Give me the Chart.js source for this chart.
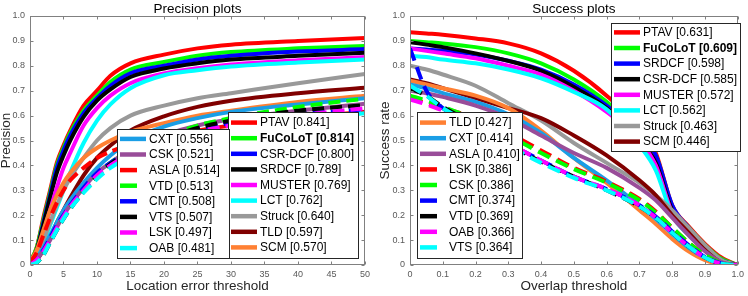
<!DOCTYPE html>
<html>
<head>
<meta charset="utf-8">
<script src="https://cdn.jsdelivr.net/npm/chart.js@4.4.1/dist/chart.umd.min.js"></script>
<style>
    html, body { margin: 0; padding: 0; background: #fff; }
    #wrap { display: flex; width: 748px; height: 296px; }
    .cell { position: relative; width: 374px; height: 296px; }
</style>
</head>
<body>
<div id="wrap">
    <div class="cell"><canvas id="precision-chart" width="374" height="296"></canvas></div>
    <div class="cell"><canvas id="success-chart" width="374" height="296"></canvas></div>
</div>
<script>
// ---- Precision plot data (location error threshold, px) ----
const precThresholds = [0, 1, 2, 3, 4, 5, 6, 8, 10, 12, 15, 20, 25, 30, 40, 50];
const precPTAV    = [0.01, 0.07, 0.19, 0.30, 0.41, 0.48, 0.54, 0.64, 0.70, 0.76, 0.81, 0.845, 0.87, 0.885, 0.90, 0.912];
const precFuCoLoT = [0.01, 0.07, 0.18, 0.29, 0.40, 0.47, 0.53, 0.62, 0.68, 0.735, 0.785, 0.815, 0.84, 0.855, 0.87, 0.88];
const precCSRDCF  = [0.01, 0.06, 0.17, 0.28, 0.39, 0.46, 0.52, 0.61, 0.67, 0.72, 0.77, 0.80, 0.825, 0.84, 0.857, 0.867];
const precSRDCF   = [0.01, 0.06, 0.16, 0.27, 0.37, 0.44, 0.50, 0.595, 0.66, 0.705, 0.755, 0.789, 0.81, 0.825, 0.84, 0.852];
const precMUSTER  = [0.01, 0.04, 0.13, 0.22, 0.31, 0.39, 0.45, 0.56, 0.63, 0.68, 0.73, 0.769, 0.79, 0.805, 0.822, 0.835];
const precLCT     = [0.01, 0.03, 0.09, 0.16, 0.23, 0.30, 0.37, 0.49, 0.58, 0.645, 0.71, 0.762, 0.782, 0.797, 0.813, 0.825];
const precStruck  = [0.01, 0.04, 0.10, 0.17, 0.24, 0.30, 0.35, 0.43, 0.50, 0.55, 0.60, 0.64, 0.67, 0.69, 0.73, 0.767];
const precTLD     = [0.00, 0.02, 0.06, 0.11, 0.17, 0.22, 0.27, 0.36, 0.43, 0.48, 0.54, 0.597, 0.635, 0.66, 0.69, 0.712];
const precSCM     = [0.01, 0.06, 0.14, 0.22, 0.28, 0.33, 0.37, 0.43, 0.47, 0.50, 0.535, 0.57, 0.60, 0.62, 0.655, 0.68];
const precCXT     = [0.01, 0.03, 0.07, 0.12, 0.17, 0.22, 0.26, 0.33, 0.39, 0.44, 0.50, 0.556, 0.59, 0.615, 0.645, 0.67];
const precCSK     = [0.00, 0.02, 0.06, 0.10, 0.15, 0.20, 0.24, 0.31, 0.37, 0.41, 0.465, 0.521, 0.56, 0.585, 0.62, 0.648];
const precASLA    = [0.01, 0.05, 0.12, 0.19, 0.25, 0.30, 0.34, 0.39, 0.43, 0.455, 0.485, 0.514, 0.54, 0.56, 0.59, 0.615];
const precVTD     = [0.00, 0.01, 0.045, 0.095, 0.145, 0.19, 0.23, 0.30, 0.36, 0.41, 0.46, 0.513, 0.56, 0.59, 0.635, 0.668];
const precCMT     = [0.00, 0.02, 0.06, 0.11, 0.16, 0.20, 0.24, 0.31, 0.37, 0.41, 0.46, 0.508, 0.545, 0.57, 0.605, 0.625];
const precVTS     = [0.00, 0.01, 0.04, 0.09, 0.14, 0.185, 0.225, 0.295, 0.355, 0.405, 0.455, 0.507, 0.55, 0.58, 0.62, 0.642];
const precLSK     = [0.00, 0.02, 0.055, 0.10, 0.15, 0.195, 0.235, 0.30, 0.36, 0.40, 0.45, 0.497, 0.535, 0.56, 0.60, 0.63];
const precOAB     = [0.00, 0.01, 0.04, 0.09, 0.14, 0.185, 0.225, 0.29, 0.345, 0.39, 0.435, 0.481, 0.515, 0.54, 0.58, 0.61];

const precNames  = ['PTAV', 'FuCoLoT', 'CSR-DCF', 'SRDCF', 'MUSTER', 'LCT', 'Struck', 'TLD', 'SCM',
                    'CXT', 'CSK', 'ASLA', 'VTD', 'CMT', 'VTS', 'LSK', 'OAB'];
const precScores = [0.841, 0.814, 0.800, 0.789, 0.769, 0.762, 0.640, 0.597, 0.570,
                    0.556, 0.521, 0.514, 0.513, 0.508, 0.507, 0.497, 0.481];
const precSeries = [precPTAV, precFuCoLoT, precCSRDCF, precSRDCF, precMUSTER, precLCT, precStruck, precTLD, precSCM,
                    precCXT, precCSK, precASLA, precVTD, precCMT, precVTS, precLSK, precOAB];

// ---- Success plot data (overlap threshold) ----
const succThresholds = [0, 0.05, 0.1, 0.2, 0.3, 0.4, 0.5, 0.6, 0.7, 0.75, 0.8, 0.85, 0.9, 0.95, 1];
const succPTAV    = [0.935, 0.93, 0.925, 0.91, 0.89, 0.85, 0.78, 0.68, 0.55, 0.45, 0.24, 0.155, 0.085, 0.03, 0];
const succFuCoLoT = [0.90, 0.895, 0.89, 0.875, 0.85, 0.81, 0.745, 0.655, 0.53, 0.44, 0.235, 0.15, 0.08, 0.025, 0];
const succSRDCF   = [0.87, 0.865, 0.86, 0.845, 0.82, 0.785, 0.725, 0.64, 0.52, 0.44, 0.24, 0.15, 0.075, 0.02, 0];
const succCSRDCF  = [0.895, 0.885, 0.875, 0.85, 0.82, 0.78, 0.715, 0.63, 0.50, 0.41, 0.22, 0.14, 0.07, 0.018, 0];
const succMUSTER  = [0.87, 0.86, 0.85, 0.83, 0.80, 0.765, 0.70, 0.615, 0.50, 0.40, 0.21, 0.13, 0.065, 0.016, 0];
const succLCT     = [0.84, 0.835, 0.825, 0.81, 0.785, 0.75, 0.695, 0.625, 0.48, 0.38, 0.20, 0.12, 0.06, 0.015, 0];
const succStruck  = [0.80, 0.785, 0.765, 0.72, 0.65, 0.58, 0.49, 0.41, 0.33, 0.28, 0.22, 0.15, 0.08, 0.02, 0];
const succSCM     = [0.745, 0.73, 0.71, 0.67, 0.63, 0.59, 0.52, 0.44, 0.34, 0.28, 0.20, 0.13, 0.06, 0.01, 0];
const succTLD     = [0.74, 0.725, 0.71, 0.68, 0.63, 0.54, 0.43, 0.33, 0.22, 0.165, 0.105, 0.055, 0.02, 0.004, 0];
const succCXT     = [0.725, 0.71, 0.69, 0.655, 0.605, 0.53, 0.43, 0.34, 0.24, 0.185, 0.125, 0.07, 0.03, 0.006, 0];
const succASLA    = [0.70, 0.69, 0.675, 0.64, 0.59, 0.52, 0.45, 0.39, 0.31, 0.26, 0.19, 0.12, 0.055, 0.012, 0];
const succLSK     = [0.67, 0.65, 0.63, 0.59, 0.53, 0.46, 0.39, 0.335, 0.265, 0.215, 0.15, 0.09, 0.04, 0.008, 0];
const succCSK     = [0.68, 0.66, 0.635, 0.585, 0.52, 0.45, 0.385, 0.33, 0.26, 0.21, 0.15, 0.09, 0.04, 0.008, 0];
const succCMT     = [0.87, 0.70, 0.63, 0.565, 0.49, 0.42, 0.355, 0.305, 0.24, 0.195, 0.135, 0.08, 0.032, 0.006, 0];
const succVTD     = [0.71, 0.68, 0.635, 0.565, 0.485, 0.415, 0.355, 0.30, 0.235, 0.19, 0.13, 0.075, 0.03, 0.005, 0];
const succOAB     = [0.665, 0.645, 0.62, 0.565, 0.49, 0.42, 0.355, 0.305, 0.24, 0.19, 0.13, 0.075, 0.03, 0.005, 0];
const succVTS     = [0.72, 0.68, 0.63, 0.56, 0.48, 0.41, 0.35, 0.30, 0.235, 0.19, 0.13, 0.075, 0.03, 0.005, 0];

const succNames  = ['PTAV', 'FuCoLoT', 'SRDCF', 'CSR-DCF', 'MUSTER', 'LCT', 'Struck', 'SCM',
                    'TLD', 'CXT', 'ASLA', 'LSK', 'CSK', 'CMT', 'VTD', 'OAB', 'VTS'];
const succScores = [0.631, 0.609, 0.598, 0.585, 0.572, 0.562, 0.463, 0.446,
                    0.427, 0.414, 0.410, 0.386, 0.386, 0.374, 0.369, 0.366, 0.364];
const succSeries = [succPTAV, succFuCoLoT, succSRDCF, succCSRDCF, succMUSTER, succLCT, succStruck, succSCM,
                    succTLD, succCXT, succASLA, succLSK, succCSK, succCMT, succVTD, succOAB, succVTS];

// estilo por posicion en el ranking (igual en las dos graficas)
const rankColors = ['#ff0000', '#00ff00', '#0000ff', '#000000', '#ff00ff', '#00ffff', '#999999', '#800000', '#ff8033',
                    '#1a9ee6', '#994d99', '#ff0000', '#00ff00', '#0000ff', '#000000', '#ff00ff', '#00ffff'];
const FONT = '"Liberation Sans", Arial, sans-serif';

function buildDatasets(xs, series, names, scores, dash) {
    const sets = series.map((ys, i) => ({
        label: names[i] + ' [' + scores[i].toFixed(3) + ']',
        data: ys.map((y, j) => ({ x: xs[j], y: y })),
        borderColor: rankColors[i],
        borderWidth: 4,
        borderDash: i >= 11 ? dash : [],
        pointRadius: 0,
        cubicInterpolationMode: 'monotone',
        fill: false,
        bold: names[i] === 'FuCoLoT',
        dashed: i >= 11
    }));
    // el ultimo del ranking queda encima
    return sets.reverse();
}

const frameAndLegend = {
    id: 'frameAndLegend',
    afterDatasetsDraw(chart, args, opts) {
        const { ctx, chartArea: a, scales } = chart;
        ctx.save();
        // caja de ejes con marcas hacia dentro
        ctx.strokeStyle = '#808080';
        ctx.lineWidth = 1;
        const L = Math.round(a.left) + 0.5, R = Math.round(a.right) - 0.5;
        const T = Math.round(a.top) + 0.5, B = Math.round(a.bottom) - 0.5;
        ctx.strokeRect(L, T, R - L, B - T);
        ctx.beginPath();
        scales.x.ticks.forEach(t => {
            const px = Math.round(scales.x.getPixelForValue(t.value)) + 0.5;
            ctx.moveTo(px, B); ctx.lineTo(px, B - 3);
            ctx.moveTo(px, T); ctx.lineTo(px, T + 3);
        });
        scales.y.ticks.forEach(t => {
            const py = Math.round(scales.y.getPixelForValue(t.value)) + 0.5;
            ctx.moveTo(L, py); ctx.lineTo(L + 3, py);
            ctx.moveTo(R, py); ctx.lineTo(R - 3, py);
        });
        ctx.stroke();

        // titulo
        ctx.fillStyle = '#000';
        ctx.font = '13.5px ' + FONT;
        ctx.textAlign = 'center';
        ctx.textBaseline = 'middle';
        ctx.fillText(opts.title, (a.left + a.right) / 2, 9);

        // leyendas
        const entries = chart.data.datasets.slice().reverse();
        let start = 0;
        opts.boxes.forEach(box => {
            drawLegendBox(ctx, a, box, entries.slice(start, start + box.count));
            start += box.count;
        });
        ctx.restore();
    }
};

function drawLegendBox(ctx, area, box, entries) {
    const left = Math.round(area.left + box.dx), top = Math.round(area.top + box.dy);
    ctx.fillStyle = '#fff';
    ctx.fillRect(left, top, box.w, box.h);
    ctx.setLineDash([]);
    ctx.strokeStyle = '#262626';
    ctx.lineWidth = 1;
    ctx.strokeRect(left + 0.5, top + 0.5, box.w, box.h);
    const sp = 15.6;
    const first = top + (box.h - (entries.length - 1) * sp) / 2;
    entries.forEach((e, i) => {
        const y = first + i * sp;
        ctx.beginPath();
        ctx.setLineDash(e.dashed ? [17, 12] : []);
        ctx.strokeStyle = e.borderColor;
        ctx.lineWidth = 4.5;
        ctx.lineCap = 'butt';
        ctx.moveTo(left + 3, y);
        ctx.lineTo(left + 29, y);
        ctx.stroke();
        ctx.setLineDash([]);
        ctx.fillStyle = '#000';
        ctx.font = (e.bold ? 'bold ' : '') + '12px ' + FONT;
        ctx.textAlign = 'left';
        ctx.textBaseline = 'middle';
        ctx.fillText(e.label, left + 32, y + 0.5);
    });
}

function axisOptions(min, max, step, title, yAxisWidth, yTitlePad) {
    const tickFont = { family: FONT, size: 9 };
    return {
        x: {
            type: 'linear', min: min, max: max,
            grid: { display: false, drawTicks: false },
            border: { display: false },
            ticks: { stepSize: step, autoSkip: false, maxRotation: 0, padding: 4, color: '#595959', font: tickFont },
            title: { display: true, text: title.x, color: '#262626', font: { family: FONT, size: 13.5, lineHeight: 1 }, padding: { top: 0, bottom: 3 } },
            afterFit(scale) { scale.height = 31; }
        },
        y: {
            type: 'linear', min: 0, max: 1,
            grid: { display: false, drawTicks: false },
            border: { display: false },
            ticks: { stepSize: 0.1, autoSkip: false, padding: 5, color: '#595959', font: tickFont },
            title: { display: true, text: title.y, color: '#262626', font: { family: FONT, size: 13.5, lineHeight: 1 }, padding: { top: yTitlePad, bottom: 0 } },
            afterFit(scale) { scale.width = yAxisWidth; }
        }
    };
}

function makeChart(id, datasets, scales, pad, plotTitle, boxes) {
    return new Chart(document.getElementById(id), {
        type: 'line',
        data: { datasets: datasets },
        options: {
            responsive: false,
            animation: false,
            devicePixelRatio: 1,
            layout: { padding: pad },
            scales: scales,
            plugins: {
                legend: { display: false },
                tooltip: { enabled: false },
                frameAndLegend: { title: plotTitle, boxes: boxes }
            }
        },
        plugins: [frameAndLegend]
    });
}

document.addEventListener('DOMContentLoaded', () => {
    makeChart('precision-chart',
        buildDatasets(precThresholds, precSeries, precNames, precScores, [12, 6]),
        axisOptions(0, 50, 5, { x: 'Location error threshold', y: 'Precision' }, 30, 0),
        { top: 16, right: 7, bottom: 0, left: 0 },
        'Precision plots',
        [
            { count: 9, dx: 198, dy: 96, w: 130, h: 146 },
            { count: 8, dx: 87, dy: 113, w: 112, h: 129 }
        ]);

    makeChart('success-chart',
        buildDatasets(succThresholds, succSeries, succNames, succScores, [13, 7]),
        axisOptions(0, 1, 0.1, { x: 'Overlap threshold', y: 'Success rate' }, 36, 5),
        { top: 16, right: 2, bottom: 0, left: 0 },
        'Success plots',
        [
            { count: 8, dx: 201, dy: 7, w: 129, h: 128 },
            { count: 9, dx: 7, dy: 96, w: 105, h: 146 }
        ]);
});
</script>
</body>
</html>
